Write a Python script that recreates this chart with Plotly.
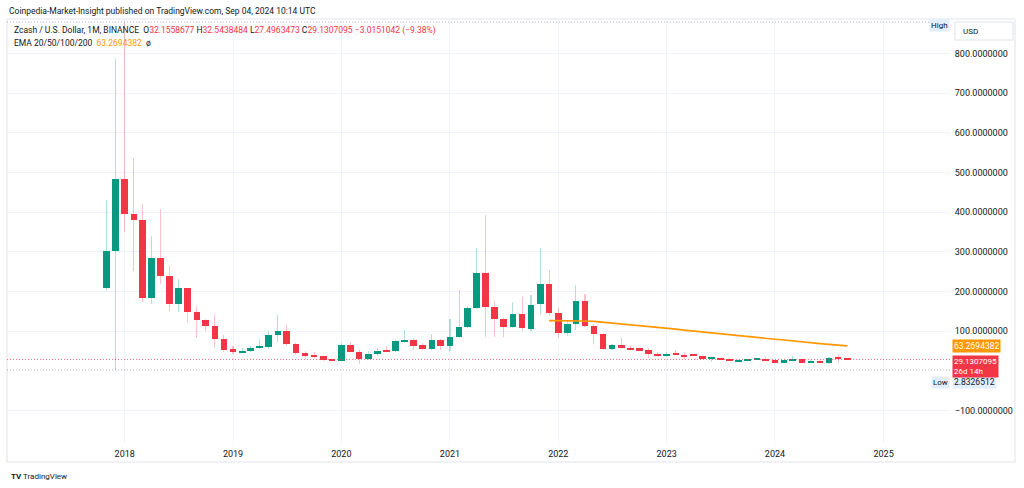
import plotly.graph_objects as go
import pandas as pd

# ---------------- data (monthly ZEC/USD, Binance) ----------------
months = pd.date_range("2017-11-01", "2024-09-01", freq="MS").strftime("%Y-%m-%d").tolist()

opens = [208, 303, 483, 395, 380, 183, 284, 240, 170, 208, 148, 128, 114, 81,
         55, 47, 50, 58, 60, 90, 102, 67, 45, 39, 37, 29,
         26, 65, 49, 30, 44, 52, 50, 73, 78, 65, 56, 78,
         62, 85, 111, 158, 246, 160, 131, 110, 144, 105, 168, 220,
         147, 95, 118, 177, 113, 92, 55, 65, 59, 57, 53, 43,
         37, 44.5, 41, 40, 38, 31, 32, 31, 24.4, 26, 28, 30,
         27, 21, 27, 30, 19.4, 26, 19.4, 33.5, 32.1558677]
highs = [431, 785, 879, 536, 420, 341, 407, 265, 232, 210, 162, 131, 141, 90,
         63, 59, 62, 80, 101, 141, 116, 71, 51, 48, 38, 31,
         70, 74, 53, 51, 57, 64, 77, 103, 84, 70, 92, 80,
         131, 204, 164, 309, 393, 176, 133, 174, 186, 192, 309, 254,
         158, 128, 217, 193, 118, 95, 67, 82, 65, 59, 57, 47,
         49, 53, 47, 44, 39, 33, 33, 32, 28, 29, 32, 38.5,
         28, 29, 38, 31, 27, 27, 35, 44, 32.5438484]
lows = [205, 2.8326512, 351, 252, 173, 170, 218, 151, 149, 120, 82, 101, 59, 49,
        44, 45, 48, 55, 55, 74, 62, 40, 30, 33, 26, 25,
        25, 47, 18, 28, 39, 48, 49, 71, 52, 54, 54, 52,
        51, 84, 108, 155, 86, 86, 86, 108, 101, 100, 141, 139,
        82, 87, 103, 111, 67, 54, 54, 58, 53, 50, 34, 36,
        36, 40, 30, 37, 30, 23.5, 29, 24, 24, 24.5, 27, 25.5,
        20.5, 20, 25, 19, 19, 19, 17, 19.4, 27.4963473]
closes = [303, 483, 395, 380, 183, 284, 240, 170, 208, 148, 128, 114, 81, 53,
          47, 50, 58, 60, 90, 102, 67, 45, 39, 37, 28, 26,
          65, 49, 30, 44, 51, 50, 75, 79, 64, 55, 78, 62,
          85, 111, 158, 246, 162, 131, 111, 144, 108, 166, 220, 145,
          95, 118, 177, 113, 92, 55, 65, 60, 55, 52, 43, 37,
          44, 41, 37, 38, 31, 32, 30, 24.4, 27, 28, 31, 26,
          21, 28, 31, 19.4, 26, 19.4, 33.5, 32.16, 29.1307095]

ema_months = months[49:]
ema_values = [127, 127, 126.5, 126.5, 126, 125, 123, 121, 119, 117, 115, 113, 111,
              108, 105.5, 103, 100.5, 98, 95.5, 93, 90.5, 88.5, 86.5, 84, 82,
              80, 78, 75.5, 73, 71, 69, 67, 65, 63.2694382]

year_ticks = ["2018-01-01", "2019-01-01", "2020-01-01", "2021-01-01",
              "2022-01-01", "2023-01-01", "2024-01-01", "2025-01-01"]
year_labels = ["2018", "2019", "2020", "2021", "2022", "2023", "2024", "2025"]
price_ticks = [-100, 100, 200, 300, 400, 500, 600, 700, 800]

high_val = 879
low_val = 2.8326512
last_close = 29.1307095
last_ema = 63.2694382

# ---------------- styling ----------------
W, H = 1024, 488
GREEN = "#089981"
RED = "#F23645"
GREEN_W = "rgba(8,153,129,0.30)"
RED_W = "rgba(242,54,69,0.30)"
ORANGE = "#FF9800"
TXT = "#131722"
GRID = "#F0F3FA"
FONT = "Roboto"

pane_l, pane_r, pane_t, pane_b = 7, 950, 20, 443
px_per_month = 9.03
month_ms = 30.4375 * 86400000
body_w = 6.6 / px_per_month * month_ms
wick_w = 1.1 / px_per_month * month_ms

ref = pd.Timestamp("2018-01-01")
ms_per_px = 365.25 * 86400000 / 108.4
x0 = ref - pd.Timedelta(milliseconds=(124.7 - pane_l) * ms_per_px)
x1 = ref + pd.Timedelta(milliseconds=(pane_r - 124.7) * ms_per_px)
y_per_px = 100 / 39.7
ytop = (371 - pane_t) * y_per_px
ybot = (371 - pane_b) * y_per_px

up = [c >= o for o, c in zip(opens, closes)]
body_base = [min(o, c) for o, c in zip(opens, closes)]
body_h = [max(abs(c - o), 2.5) for o, c in zip(opens, closes)]
wick_base = lows
wick_h = [h - l for h, l in zip(highs, lows)]

fig = go.Figure()
fig.add_trace(go.Bar(x=months, y=wick_h, base=wick_base, width=wick_w,
                     marker=dict(color=[GREEN_W if u else RED_W for u in up], line_width=0),
                     hoverinfo="skip", showlegend=False))
fig.add_trace(go.Bar(x=months, y=body_h, base=body_base, width=body_w,
                     marker=dict(color=[GREEN if u else RED for u in up], line_width=0),
                     hoverinfo="skip", showlegend=False))
fig.add_trace(go.Scatter(x=ema_months, y=ema_values, mode="lines",
                         line=dict(color=ORANGE, width=1.6), hoverinfo="skip", showlegend=False))

def py(p):
    return 1 - p / H

def px(p):
    return p / W

shapes = [
    dict(type="rect", xref="paper", yref="paper", x0=px(7), x1=px(1015), y0=py(462), y1=py(19),
         line=dict(color="#E0E3EB", width=1), fillcolor="rgba(0,0,0,0)", layer="below"),
    dict(type="line", xref="paper", yref="y", x0=px(pane_l), x1=px(929), y0=high_val, y1=high_val,
         line=dict(color="#B2B5BE", width=1, dash="1px,2px")),
    dict(type="line", xref="paper", yref="y", x0=px(pane_l), x1=px(pane_r), y0=low_val, y1=low_val,
         line=dict(color="#B2B5BE", width=1, dash="1px,2px")),
    dict(type="line", xref="paper", yref="y", x0=px(pane_l), x1=px(pane_r), y0=last_close, y1=last_close,
         line=dict(color="rgba(242,54,69,0.7)", width=1, dash="1px,2px")),
    dict(type="rect", xref="paper", yref="paper", x0=px(955), x1=px(1013), y0=py(40), y1=py(22),
         line=dict(color="#E0E3EB", width=1), fillcolor="white"),
]

red_span = lambda s: f"<span style='color:{RED}'>{s}</span>"
legend1 = ("Zcash / U.S. Dollar, 1M, BINANCE  O" + red_span("32.1558677") + " H" + red_span("32.5438484")
           + " L" + red_span("27.4963473") + " C" + red_span("29.1307095") + " "
           + red_span("\u22123.0151042 (\u22129.38%)"))
legend2 = "EMA 20/50/100/200  " + f"<span style='color:{ORANGE}'>63.2694382</span>" + "  \u00f8"

BADGE = "#E3EEFD"
ann = [
    dict(text="Coinpedia-Market-Insight published on TradingView.com, Sep 04, 2024 10:14 UTC",
         x=px(7), y=py(11), xanchor="left", yanchor="middle", font=dict(size=8.5, color=TXT)),
    dict(text=legend1, x=px(12), y=py(30), xanchor="left", yanchor="middle", font=dict(size=8.5, color=TXT)),
    dict(text=legend2, x=px(12), y=py(43), xanchor="left", yanchor="middle", font=dict(size=8.5, color=TXT)),
    dict(text="High", x=px(950), y=py(25), xanchor="right", yanchor="middle", bgcolor=BADGE,
         borderpad=1, font=dict(size=8, color=TXT)),
    dict(text="USD", x=px(961), y=py(31.5), xanchor="left", yanchor="middle", font=dict(size=8, color=TXT)),
    dict(text="63.2694382", x=px(952), y=last_ema, yref="y", xanchor="left", yanchor="middle",
         bgcolor=ORANGE, borderpad=1, font=dict(size=8.5, color="white")),
    dict(text="Low", x=px(950), y=low_val, yref="y", xanchor="right", yanchor="middle", yshift=-12.5,
         bgcolor=BADGE, borderpad=1, font=dict(size=8, color=TXT)),
    dict(text="2.8326512", x=px(952), y=low_val, yref="y", xanchor="left", yanchor="middle", yshift=-12.5,
         bgcolor=BADGE, borderpad=1, font=dict(size=8.5, color=TXT)),
    dict(text="29.1307095<br>26d 14h", x=px(952), y=last_close, yref="y", xanchor="left", yanchor="top",
         yshift=4.5, align="left", bgcolor=RED, borderpad=1, font=dict(size=8, color="white")),
    dict(text="<b>TV</b> TradingView", x=px(9), y=py(476), xanchor="left", yanchor="middle",
         font=dict(size=8, color=TXT)),
]
for a in ann:
    a.setdefault("xref", "paper")
    a.setdefault("yref", "paper")
    a["showarrow"] = False

fig.update_layout(
    width=W, height=H, autosize=False,
    margin=dict(l=0, r=0, t=0, b=0),
    paper_bgcolor="white", plot_bgcolor="white",
    barmode="overlay", bargap=0,
    font=dict(family=FONT, size=8.5, color=TXT),
    showlegend=False,
    shapes=shapes, annotations=ann,
    xaxis=dict(type="date", domain=[px(pane_l), px(pane_r)],
               range=[x0.strftime("%Y-%m-%d %H:%M"), x1.strftime("%Y-%m-%d %H:%M")],
               tickvals=year_ticks, ticktext=year_labels, showgrid=True, gridcolor=GRID, gridwidth=1,
               ticks="outside", ticklen=2, tickcolor="rgba(0,0,0,0)", showline=False, zeroline=False,
               tickfont=dict(size=9, color=TXT), fixedrange=True),
    yaxis=dict(domain=[py(pane_b), py(pane_t)], range=[ybot, ytop], side="right",
               tickvals=price_ticks, tickformat=".7f", showgrid=True, gridcolor=GRID, gridwidth=1,
               ticks="outside", ticklen=2, tickcolor="rgba(0,0,0,0)", showline=False, zeroline=False,
               tickfont=dict(size=9, color=TXT), fixedrange=True),
)

fig.write_html("out.html", config={"displayModeBar": False},
               post_script="document.body.style.margin='0';document.body.style.padding='0';")
